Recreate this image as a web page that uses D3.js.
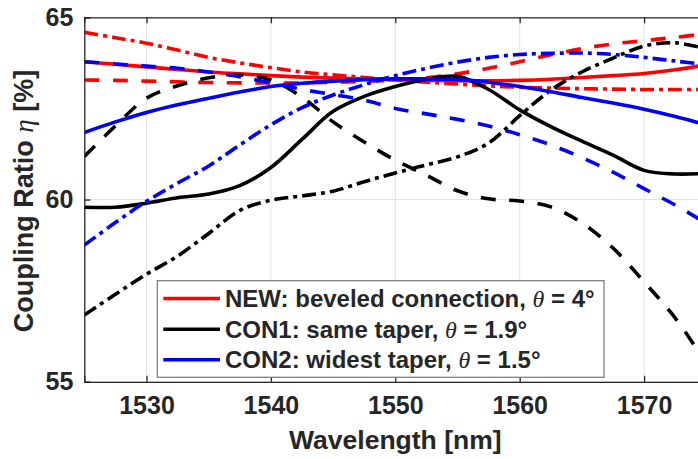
<!DOCTYPE html>
<html><head><meta charset="utf-8">
<script src="https://cdn.jsdelivr.net/npm/d3@7"></script>
<style>
html,body{margin:0;padding:0;background:#fff;}
svg{display:block;overflow:hidden;}
text{font-family:"Liberation Sans",Arial,sans-serif;font-weight:bold;fill:#262626;}
</style></head>
<body>
<svg id="chart" width="698" height="459"></svg>
<script>
const wavelength = [1525,1527.5,1530,1532.5,1535,1537.5,1540,1542.5,1545,1547.5,1550,1552.5,1555,1557.5,1560,1562.5,1565,1567.5,1570,1572.5,1575];
const newSolid    = [63.78,63.71,63.64,63.57,63.50,63.45,63.40,63.36,63.33,63.31,63.29,63.27,63.26,63.26,63.27,63.30,63.35,63.40,63.46,63.56,63.70];
const newDash     = [63.28,63.27,63.25,63.23,63.21,63.20,63.20,63.20,63.22,63.24,63.28,63.34,63.45,63.60,63.78,63.97,64.14,64.27,64.36,64.45,64.55];
const newDashDot  = [64.59,64.44,64.29,64.10,63.90,63.75,63.62,63.50,63.42,63.35,63.28,63.22,63.17,63.12,63.08,63.06,63.04,63.03,63.02,63.02,63.02];
const con1Solid   = [59.79,59.79,59.90,60.05,60.15,60.38,60.88,61.65,62.42,62.83,63.10,63.30,63.38,63.02,62.46,62.00,61.60,61.22,60.80,60.70,60.72];
const con1Dash    = [61.18,62.02,62.78,63.12,63.34,63.42,63.28,62.81,62.13,61.58,61.08,60.67,60.24,60.02,59.96,59.80,59.36,58.67,57.74,56.75,55.50];
const con1DashDot = [56.83,57.40,57.95,58.45,59.07,59.70,59.98,60.10,60.23,60.49,60.73,60.95,61.17,61.55,62.30,63.00,63.50,63.88,64.21,64.30,64.13];
const con2Solid   = [61.84,62.13,62.39,62.60,62.78,62.95,63.10,63.19,63.25,63.29,63.31,63.31,63.29,63.22,63.10,62.96,62.80,62.65,62.48,62.28,62.05];
const con2Dash    = [63.78,63.72,63.66,63.60,63.50,63.37,63.20,63.02,62.88,62.73,62.50,62.35,62.20,62.02,61.78,61.50,61.15,60.75,60.30,59.85,59.35];
const con2DashDot = [58.75,59.37,59.95,60.45,60.92,61.50,62.05,62.52,62.87,63.15,63.40,63.60,63.77,63.90,63.98,64.01,64.02,63.98,63.90,63.80,63.70];
const xTicks = [1530,1540,1550,1560,1570];
const yTicks = [55,60,65];
const legendLabels = [
  {pre:"NEW: beveled connection, ", post:" = 4°", color:"#ff0000"},
  {pre:"CON1: same taper, ", post:" = 1.9°", color:"#000000"},
  {pre:"CON2: widest taper, ", post:" = 1.5°", color:"#0000ff"}
];

const series = [
  {v:newSolid, c:"#ff0000", d:null},
  {v:newDash, c:"#ff0000", d:"15,13.5"},
  {v:newDashDot, c:"#ff0000", d:"14,5,4,5"},
  {v:con1Solid, c:"#000000", d:null},
  {v:con1Dash, c:"#000000", d:"15,13.5"},
  {v:con1DashDot, c:"#000000", d:"14,5,4,5"},
  {v:con2Solid, c:"#0000ff", d:null},
  {v:con2Dash, c:"#0000ff", d:"15,13.5"},
  {v:con2DashDot, c:"#0000ff", d:"14,5,4,5"}
];

const svg = d3.select("#chart");
const L = 84.3, R = 706.3, T = 17.3, B = 381.8;
const x = d3.scaleLinear().domain([1525,1575]).range([L,R]);
const y = d3.scaleLinear().domain([55,65]).range([B,T]);
const axisColor = "#262626";

svg.append("defs").append("clipPath").attr("id","clip")
  .append("rect").attr("x",L).attr("y",T).attr("width",R-L).attr("height",B-T);

// grid
const g = svg.append("g");
g.selectAll("line.gx").data(xTicks).join("line")
  .attr("x1",d=>x(d)).attr("x2",d=>x(d)).attr("y1",T).attr("y2",B)
  .attr("stroke","#e3e3e3").attr("stroke-width",1);
g.selectAll("line.gy").data(yTicks).join("line")
  .attr("x1",L).attr("x2",R).attr("y1",d=>y(d)).attr("y2",d=>y(d))
  .attr("stroke","#e3e3e3").attr("stroke-width",1);

// curves
const line = d3.line().x((d,i)=>x(wavelength[i])).y(d=>y(d)).curve(d3.curveCatmullRom.alpha(0.5));
const cg = svg.append("g").attr("clip-path","url(#clip)");
series.forEach(s=>{
  cg.append("path").attr("d",line(s.v)).attr("fill","none")
    .attr("stroke",s.c).attr("stroke-width",3.6)
    .attr("stroke-dasharray",s.d).attr("stroke-linejoin","round");
});

// axes (box)
const xb = d3.axisBottom(x).tickValues(xTicks).tickSize(-6).tickPadding(14).tickFormat(d3.format("d"));
const xt = d3.axisTop(x).tickValues(xTicks).tickSize(-6).tickFormat("");
const yl = d3.axisLeft(y).tickValues(yTicks).tickSize(-6).tickPadding(11).tickFormat(d3.format("d"));
const yr = d3.axisRight(y).tickValues(yTicks).tickSize(-6).tickFormat("");
function style(sel){
  sel.select(".domain").attr("stroke",axisColor).attr("stroke-width",1.3);
  sel.selectAll(".tick line").attr("stroke",axisColor).attr("stroke-width",1.3);
  sel.selectAll(".tick text").attr("fill","#262626").style("font-size","25px")
    .style("font-family","'Liberation Sans',Arial,sans-serif").style("font-weight","bold");
}
svg.append("g").attr("transform",`translate(0,${B})`).call(xb).call(style);
svg.append("g").attr("transform",`translate(0,${T})`).call(xt).call(style);
svg.append("g").attr("transform",`translate(${L},0)`).call(yl).call(style);
svg.append("g").attr("transform",`translate(${R},0)`).call(yr).call(style);

// axis labels
svg.append("text").attr("x",(L+R)/2).attr("y",449).attr("text-anchor","middle")
  .style("font-size","26.5px").text("Wavelength [nm]");
const yLab = svg.append("text").attr("transform","translate(33,201) rotate(-90)")
  .attr("text-anchor","middle").style("font-size","27px");
yLab.append("tspan").text("Coupling Ratio ");
yLab.append("tspan").style("font-family","'Liberation Serif',serif").style("font-style","italic").style("font-weight","normal").text("η");
yLab.append("tspan").text(" [%]");

// legend
const lg = svg.append("g");
lg.append("rect").attr("x",157.3).attr("y",280.7).attr("width",446.7).attr("height",96.6)
  .attr("fill","#fff").attr("stroke","#7f7f7f").attr("stroke-width",1.3);
const rowsY = [298.5,329.3,359.8];
legendLabels.forEach((d,i)=>{
  lg.append("line").attr("x1",163.3).attr("x2",220).attr("y1",rowsY[i]).attr("y2",rowsY[i])
    .attr("stroke",d.color).attr("stroke-width",3.6);
  const t = lg.append("text").attr("x",225).attr("y",rowsY[i]+8.5).style("font-size","24px").attr("fill","#000");
  t.append("tspan").text(d.pre);
  t.append("tspan").style("font-family","'Liberation Serif',serif").style("font-style","italic").style("font-weight","normal").text("θ");
  t.append("tspan").text(d.post);
});
</script>
</body></html>
